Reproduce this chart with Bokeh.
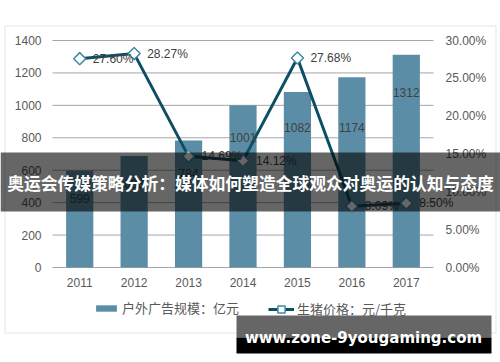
import numpy as np
from bokeh.plotting import figure
from bokeh.models import (Range1d, Legend, LegendItem, BoxAnnotation, Label, ColumnDataSource)
from bokeh.core.properties import value
from bokeh.embed import file_html
from bokeh.resources import INLINE

# ---------------- data ----------------
years = ["2011", "2012", "2013", "2014", "2015", "2016", "2017"]
ad_scale = [599, 688, 784, 1001, 1082, 1174, 1312]          # 户外广告规模：亿元
pork_price = [0.2760, 0.2827, 0.1469, 0.1412, 0.2768, 0.0809, 0.0850]  # 生猪价格
left_ticks = [0, 200, 400, 600, 800, 1000, 1200, 1400]
right_ticks = [0.0, 0.05, 0.10, 0.15, 0.20, 0.25, 0.30]
bar_name = "户外广告规模：亿元"
line_name = "生猪价格：元/千克"
banner_text = "奥运会传媒策略分析：媒体如何塑造全球观众对奥运的认知与态度"
watermark_text = "www.zone-9yougaming.com"

# label placement (layout, not data)
bar_label_y = [425, 520, 580, 802, 863, 863, 1079]

# ---------------- layout (pixels) ----------------
W, H = 500, 362
PL, PR, PT, PB = 52, 433, 40, 267          # plot area in page pixels
n = len(years)
xs = list(range(n))
cat_w = (PR - PL) / n
x_start = -0.5 - PL / cat_w
x_end = n - 0.5 + (W - PR) / cat_w
y_lo, y_hi = left_ticks[0], left_ticks[-1]
r_lo, r_hi = right_ticks[0], right_ticks[-1]
px_per = (PB - PT) / (y_hi - y_lo)
y_start = y_lo - (H - PB) / px_per
y_end = y_hi + PT / px_per
k = (r_hi - r_lo) / (y_hi - y_lo)


def sy(page_y):
    """page y (down) -> frame screen y (up)"""
    return H - page_y


BAR = "#5b8ea6"
LINE = "#0f4f63"
MARK = "#3f87a6"
GRID = "#a6a6a6"
TXT = "#595959"
LAB = "#404040"
FONT = value("Liberation Sans")

p = figure(width=W, height=H, x_range=Range1d(x_start, x_end), y_range=Range1d(y_start, y_end),
           x_axis_type=None, y_axis_type=None, tools="",
           output_backend="svg", toolbar_location=None, min_border=0,
           background_fill_color="white", border_fill_color="white", outline_line_color=None)
p.extra_y_ranges = {"pct": Range1d(y_start * k, y_end * k)}

# grid lines + base axis line
p.segment(x0=[-0.5] * len(left_ticks), x1=[n - 0.5] * len(left_ticks), y0=left_ticks, y1=left_ticks,
          line_color=GRID, line_width=1)

src = ColumnDataSource(dict(
    x=xs, yr=years, top=ad_scale, pork=pork_price, lab_y=bar_label_y,
    lab=[str(v) for v in ad_scale],
    pct_lab=["%.2f%%" % (v * 100) for v in pork_price],
))

bars = p.vbar(x="x", top="top", width=0.5, source=src, fill_color=BAR, line_color=None)
line = p.line(x="x", y="pork", source=src, y_range_name="pct", line_color=LINE, line_width=3)
marks = p.scatter(x="x", y="pork", source=src, y_range_name="pct", marker="square",
                  angle=np.pi / 4, size=8.5, fill_color="white", line_color=MARK, line_width=1.5)

p.text(x="x", y="lab_y", text="lab", source=src, text_align="center", text_baseline="middle",
       text_font=FONT, text_font_size="12px", text_color=LAB)
p.text(x="x", y="pork", text="pct_lab", source=src, y_range_name="pct", x_offset=13,
       text_align="left", text_baseline="middle",
       text_font=FONT, text_font_size="12px", text_color=LAB)

# tick labels
p.text(x=[-0.5] * len(left_ticks), y=left_ticks, text=[str(t) for t in left_ticks], x_offset=-11,
       text_align="right", text_baseline="middle", text_font=FONT, text_font_size="12px",
       text_color=TXT)
p.text(x=[n - 0.5] * len(right_ticks), y=right_ticks, text=["%.2f%%" % (t * 100) for t in right_ticks],
       y_range_name="pct", x_offset=12, text_align="left", text_baseline="middle",
       text_font=FONT, text_font_size="12px", text_color=TXT)
p.text(x=xs, y=[y_lo - 15 / px_per] * n, text=years, text_align="center", text_baseline="middle",
       text_font=FONT, text_font_size="12px", text_color=TXT)

# legends
LEG_Y = 309
leg1 = Legend(items=[LegendItem(label=bar_name, renderers=[bars])], location=(93, sy(LEG_Y) - 8),
              orientation="horizontal", glyph_width=26, glyph_height=8, label_height=16,
              label_standoff=3, padding=0, margin=0, border_line_color=None,
              background_fill_alpha=0, label_text_font="Noto Sans CJK SC",
              label_text_font_size="13px", label_text_color=TXT)
leg2 = Legend(items=[LegendItem(label=line_name, renderers=[line, marks])], location=(268, sy(LEG_Y) - 9),
              orientation="horizontal", glyph_width=26, glyph_height=18, label_height=16,
              label_standoff=3, padding=0, margin=0, border_line_color=None,
              background_fill_alpha=0, label_text_font="Noto Sans CJK SC",
              label_text_font_size="13px", label_text_color=TXT)
p.add_layout(leg1, "center")
p.add_layout(leg2, "center")

SCR = dict(left_units="screen", right_units="screen", top_units="screen", bottom_units="screen")

# outer chart border
p.add_layout(BoxAnnotation(left=4.5, right=495.5, top=sy(25.5), bottom=sy(332.5), fill_alpha=0,
                           line_color=GRID, line_width=1, **SCR))

# banner overlay
p.add_layout(BoxAnnotation(left=0, right=W, top=sy(152), bottom=sy(211), fill_color="black",
                           fill_alpha=0.6, line_color=None, **SCR))
p.add_layout(Label(x=W / 2, y=sy(182), x_units="screen", y_units="screen", text=banner_text,
                   text_align="center", text_baseline="middle", text_color="white",
                   text_font="Noto Sans CJK SC", text_font_style="bold", text_font_size="16.8px"))

# watermark overlay
p.add_layout(BoxAnnotation(left=236, right=491, top=sy(315), bottom=sy(337), fill_color="#666666",
                           fill_alpha=1, line_color=None, **SCR))
p.add_layout(BoxAnnotation(left=236, right=491, top=sy(337), bottom=sy(353), fill_color="black",
                           fill_alpha=1, line_color=None, **SCR))
p.add_layout(Label(x=363, y=sy(337), x_units="screen", y_units="screen", text=watermark_text,
                   text_align="center", text_baseline="middle", text_color="white",
                   text_font="DejaVu Sans", text_font_style="bold", text_font_size="15px"))

open("out.html", "w").write(file_html(p, INLINE))
